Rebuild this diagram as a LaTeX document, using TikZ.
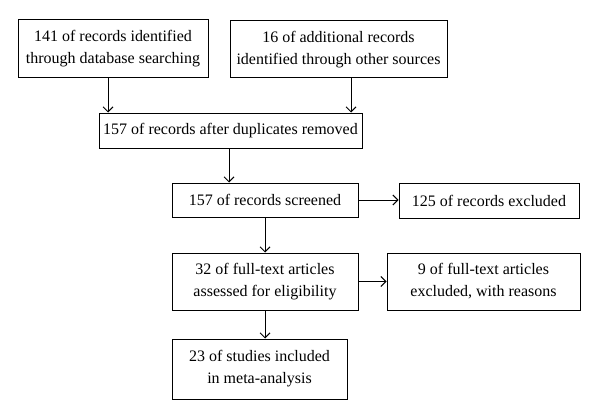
\documentclass[tikz,border=0pt]{standalone}
\usepackage{fontspec}
\setmainfont{Liberation Serif}
\usetikzlibrary{arrows.meta}
\tikzset{
    stagebox/.style={draw, line width=1pt, align=center, inner sep=0pt,
        font=\fontsize{16}{22}\selectfont},
    arr/.style={line width=1pt, -{Straight Barb[length=5pt,width=10pt]}}
}
\begin{document}
\begin{tikzpicture}[x=1pt,y=-1pt]
        \useasboundingbox (0,0) rectangle (600,420);

        \node[stagebox, minimum width=190pt, minimum height=58pt] (ident) at (113, 49) {141 of records identified\\through database searching};
        \node[stagebox, minimum width=217pt, minimum height=57pt] (other) at (338.5, 49.5) {16 of additional records\\identified through other sources};
        \node[stagebox, minimum width=263pt, minimum height=35pt] (dupl) at (230.5, 130.5) {157 of records after duplicates removed};
        \node[stagebox, minimum width=186pt, minimum height=34pt] (screen) at (265, 200) {157 of records screened};
        \node[stagebox, minimum width=180pt, minimum height=35pt] (excl) at (489, 200.5) {125 of records excluded};
        \node[stagebox, minimum width=186pt, minimum height=57pt] (full) at (265, 281.5) {32 of full-text articles\\assessed for eligibility};
        \node[stagebox, minimum width=193pt, minimum height=57pt] (fullexcl) at (483.5, 281.5) {9 of full-text articles\\excluded, with reasons};
        \node[stagebox, minimum width=175pt, minimum height=60pt] (incl) at (259.5, 369) {23 of studies included\\in meta-analysis};

        \draw[arr] ([xshift=-5pt]ident.south) -- ([xshift=-5pt]ident.south |- dupl.north);
        \draw[arr] ([xshift=12.5pt]other.south) -- ([xshift=12.5pt]other.south |- dupl.north);
        \draw[arr] ([xshift=-1.5pt]dupl.south) -- ([xshift=-1.5pt]dupl.south |- screen.north);
        \draw[arr] (screen.east) -- (screen.east -| excl.west);
        \draw[arr] (screen.south) -- (full.north);
        \draw[arr] (full.east) -- (full.east -| fullexcl.west);
        \draw[arr] (full.south) -- (full.south |- incl.north);

    \end{tikzpicture}
\end{document}
